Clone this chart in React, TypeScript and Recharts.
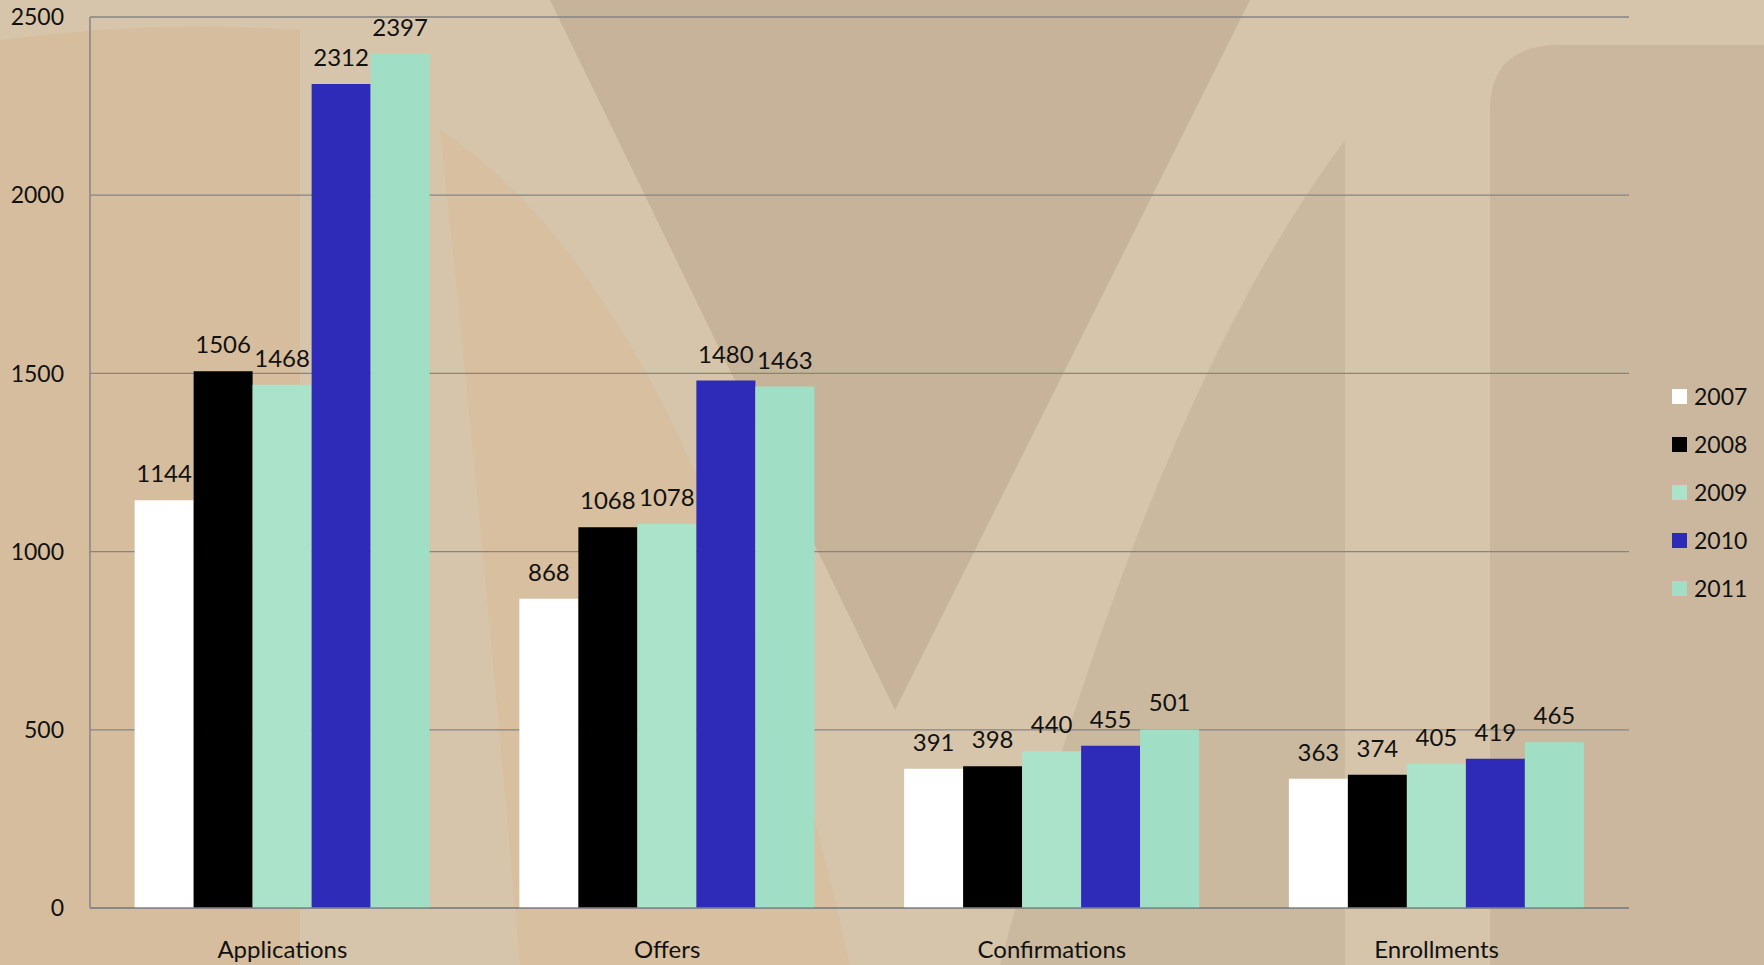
import { BarChart, Bar, XAxis, YAxis, CartesianGrid, LabelList } from "recharts";

const categories = ["Applications", "Offers", "Confirmations", "Enrollments"];
const years = ["2007", "2008", "2009", "2010", "2011"];
const s2007 = [1144, 868, 391, 363];
const s2008 = [1506, 1068, 398, 374];
const s2009 = [1468, 1078, 440, 405];
const s2010 = [2312, 1480, 455, 419];
const s2011 = [2397, 1463, 501, 465];
const yTicks = [0, 500, 1000, 1500, 2000, 2500];

const COLORS = ["#ffffff", "#000000", "#abe3ca", "#2e2bb8", "#a0dfc5"];
const FONT = "Lato, 'Open Sans', sans-serif";

const seriesValues = [s2007, s2008, s2009, s2010, s2011];
const data = categories.map((name, i) => {
  const row: Record<string, string | number> = { name };
  years.forEach((y, k) => {
    row[y] = seriesValues[k][i];
  });
  return row;
});

function LegendBox() {
  return (
    <div style={{ fontFamily: FONT, fontSize: 23, color: "#111" }}>
      {years.map((y, i) => (
        <div key={y} style={{ display: "flex", alignItems: "center", height: 48 }}>
          <span style={{ width: 15, height: 15, background: COLORS[i], marginRight: 7 }} />
          <span>{y}</span>
        </div>
      ))}
    </div>
  );
}

function Background() {
  return (
    <svg width={1764} height={965} style={{ position: "absolute", left: 0, top: 0 }}>
      <rect x={0} y={0} width={1764} height={965} fill="#d6c5aa" />
      <path d="M0,40 Q150,20 300,30 L300,965 L0,965 Z" fill="#d6bd9e" />
      <path d="M440,130 Q700,300 850,965 L520,965 Q480,500 440,130 Z" fill="#d7bf9f" />
      <path d="M550,0 L1250,0 L895,710 Z" fill="#c6b39a" />
      <path d="M1000,965 Q1150,400 1345,140 L1345,965 Z" fill="#cbb99f" />
      <path d="M1490,110 Q1490,45 1560,45 L1764,45 L1764,965 L1490,965 Z" fill="#cab79d" />
    </svg>
  );
}

export default function App() {
  return (
    <div style={{ position: "absolute", left: 0, top: 0, width: 1764, height: 965 }}>
      <Background />
      <div style={{ position: "absolute", left: 0, top: 0 }}>
        <BarChart
          width={1764}
          height={965}
          data={data}
          margin={{ top: 17, right: 135, bottom: 0, left: 0 }}
          barCategoryGap="11.6%"
          barGap={0}
        >
          <CartesianGrid vertical={false} stroke="#858585" strokeWidth={1.3} />
          <XAxis
            dataKey="name"
            height={57}
            tickLine={false}
            tickSize={0}
            tickMargin={33}
            axisLine={{ stroke: "#858585", strokeWidth: 1.5 }}
            tick={{ fill: "#111", fontSize: 24, fontFamily: FONT }}
          />
          <YAxis
            width={90}
            domain={[0, 2500]}
            ticks={yTicks}
            tickLine={false}
            tickSize={0}
            tickMargin={26}
            axisLine={{ stroke: "#858585", strokeWidth: 1.5 }}
            tick={{ fill: "#111", fontSize: 23, fontFamily: FONT }}
          />
          {years.map((y, i) => (
            <Bar key={y} dataKey={y} fill={COLORS[i]} isAnimationActive={false}>
              <LabelList
                dataKey={y}
                position="top"
                offset={18}
                style={{ fill: "#111", fontSize: 24, fontFamily: FONT }}
              />
            </Bar>
          ))}
        </BarChart>
      </div>
      <div style={{ position: "absolute", left: 1672, top: 372 }}>
        <LegendBox />
      </div>
    </div>
  );
}
